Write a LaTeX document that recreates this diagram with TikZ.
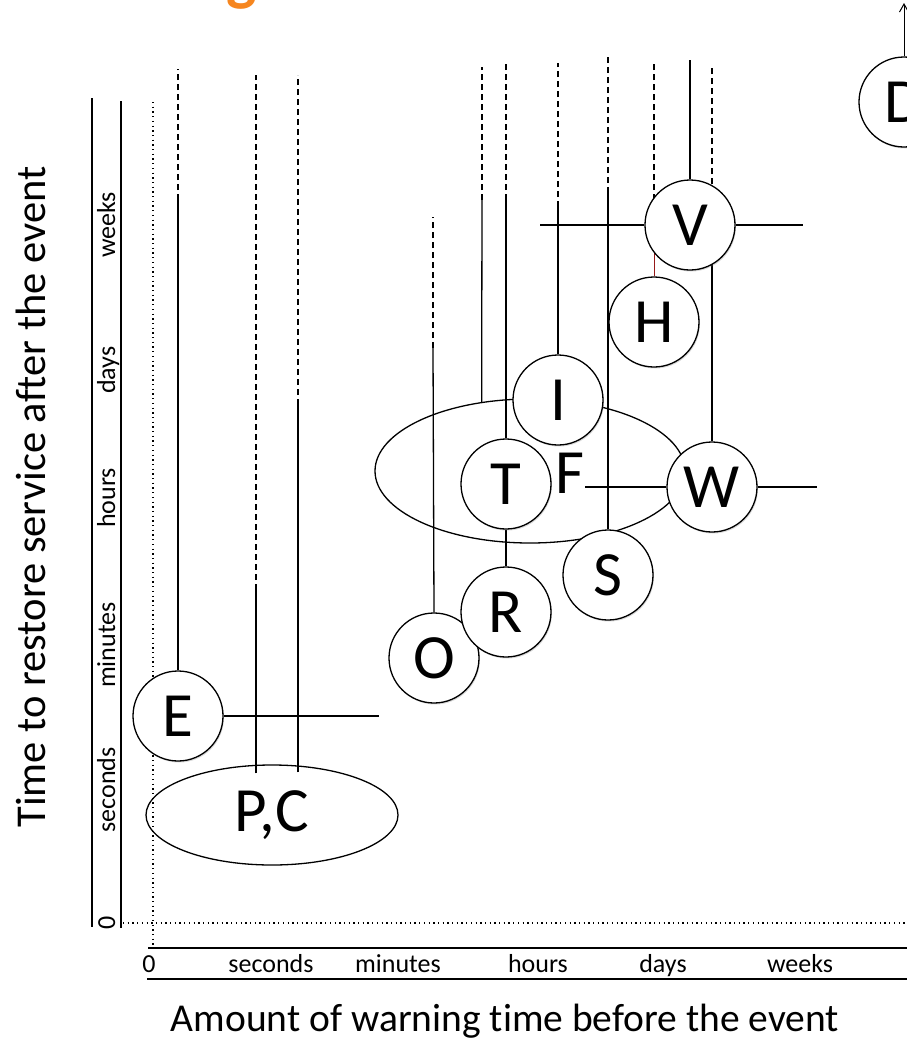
\documentclass[tikz,border=0pt]{standalone}
\usepackage{fontspec}
\setmainfont{Carlito}[Ligatures=NoCommon]
\usepackage{xcolor}
\usepackage{tikz}
\usetikzlibrary{arrows.meta,positioning,shapes.geometric,backgrounds,calc,shadows}
\definecolor{laranja}{RGB}{246,134,31}
\definecolor{vermelho}{RGB}{150,25,25}
\tikzset{
    evento/.style={
        circle,
        draw,
        fill=white,
        line width=1.3pt,
        minimum size=90pt,
        inner sep=0pt,
        font=\fontsize{63}{63}\selectfont,
        drop shadow={shadow xshift=1pt, shadow yshift=-1.5pt, opacity=0.3}
    },
    grupo/.style={ellipse, draw, line width=1.3pt, inner sep=0pt},
    linha/.style={line width=1.3pt},
    incerto/.style={linha, dash pattern=on 6pt off 4pt},
    grade/.style={line width=1.2pt, dash pattern=on 1.3pt off 3.4pt},
    eixo/.style={line width=1.4pt},
    rotulo/.style={font=\fontsize{26}{26}\selectfont, inner sep=0pt, anchor=base},
    titulo/.style={font=\fontsize{39.5}{39.5}\selectfont, inner sep=0pt, anchor=base}
}

\begin{document}
\begin{tikzpicture}[x=1pt, y=-1pt]
    \useasboundingbox (0,0) rectangle (907,1039);

    \node[text=laranja, font=\bfseries\fontsize{64}{64}\selectfont, anchor=south, inner sep=0pt] (titulo) at (242,10) {g};

    % eixos
    \draw[eixo] (92,98) -- (92,927);
    \draw[eixo] (121,101) -- (121,928);
    \draw[grade] (123,923) -- (907,923);
    \draw[grade] (153,102) -- (153,948);
    \draw[eixo] (148,948) -- (907,948);
    \draw[eixo] (147,979) -- (907,979);

    \node[rotulo] (x0) at (149,972) {0};
    \node[rotulo] (xseg) at (271,972) {seconds};
    \node[rotulo] (xmin) at (398,972) {minutes};
    \node[rotulo] (xhor) at (538,972) {hours};
    \node[rotulo] (xdia) at (663,972) {days};
    \node[rotulo] (xsem) at (800,972) {weeks};

    \node[rotulo, rotate=90] (y0) at (115,923) {0};
    \node[rotulo, rotate=90] (yseg) at (115,790) {seconds};
    \node[rotulo, rotate=90] (ymin) at (115,645) {minutes};
    \node[rotulo, rotate=90] (yhor) at (115,498) {hours};
    \node[rotulo, rotate=90] (ydia) at (115,370) {days};
    \node[rotulo, rotate=90] (ysem) at (115,225) {weeks};

    \node[titulo] (tituloX) at (505,1031) {Amount of warning time before the event};
    \node[titulo, rotate=90, font=\fontsize{42.5}{42.5}\selectfont] (tituloY) at (45,497) {Time to restore service after the event};

    % grupos e eventos
    \node[grupo, minimum width=252pt, minimum height=100pt, font=\fontsize{63}{63}\selectfont] (PC) at (272,815) {P,C};
    \node[grupo, minimum width=310pt, minimum height=144pt] (TF) at (530,471) {};
    \node[font=\fontsize{63}{63}\selectfont, inner sep=0pt] (F) at (570,473) {F};

    \node[evento] (O) at (434,658) {O};
    \node[evento] (R) at (506,612) {R};
    \node[evento] (T) at (506,484) {T};
    \node[evento] (I) at (558,400) {I};
    \node[evento] (S) at (608,575) {S};
    \node[evento] (H) at (654,322) {H};
    \node[evento] (V) at (690,225) {V};
    \node[evento] (W) at (712,487) {W};
    \node[evento] (E) at (178,716) {E};
    \node[evento] (D) at (904,102) {D};

    % pontos livres
    \foreach \nome/\x/\quebra/\topo in {E/178/200/69, P/256/590/75, C/298/405/75, O/433/348/217,
        F/482/200/67, T/506/200/63, I/558/207/63, S/608/193/57, H/654/250/63, W/712/264/68}{
        \coordinate (\nome q) at (\x,\quebra);
        \coordinate (\nome t) at (\x,\topo);
    }
    \coordinate (Pb) at ([xshift=-16pt, yshift=-9pt]PC.north);
    \coordinate (Cb) at ([xshift=26pt, yshift=-8pt]PC.north);
    \coordinate (Edir) at (379,716);
    \coordinate (Vesq) at (540,225);
    \coordinate (Vdir) at (803,225);
    \coordinate (Vt) at (690,60);
    \coordinate (Wdir) at (817,487);
    \coordinate (Dt) at (904,3);

    \begin{scope}[on background layer]
        \draw[linha] (E.north) -- (Eq);
        \draw[incerto] (Eq) -- (Et);
        \draw[linha] (Pb) -- (Pq);
        \draw[incerto] (Pq) -- (Pt);
        \draw[linha] (Cb) -- (Cq);
        \draw[incerto] (Cq) -- (Ct);
        \draw[linha] (O.north) -- (Oq);
        \draw[incerto] (Oq) -- (Ot);
        \draw[linha] (TF.125) -- (Fq);
        \draw[incerto] (Fq) -- (Ft);
        \draw[linha] (T.north) -- (Tq);
        \draw[incerto] (Tq) -- (Tt);
        \draw[linha] (T.south) -- (R.north);
        \draw[linha] (I.north) -- (Iq);
        \draw[incerto] (Iq) -- (It);
        \draw[linha] (S.north) -- (Sq);
        \draw[incerto] (Sq) -- (St);
        \draw[linha, vermelho, line width=1pt] (H.north) -- (Hq);
        \draw[incerto] (Hq) -- (Ht);
        \draw[linha] (W.north) -- (Wq);
        \draw[incerto] (Wq) -- (Wt);
        \draw[linha] (E.east) -- (Edir);
        \draw[linha] (V.west) -- (Vesq);
        \draw[linha] (V.east) -- (Vdir);
        \draw[linha] (V.north) -- (Vt);
        \draw[linha] (W.west) -- (F.east |- W.west);
        \draw[linha] (W.east) -- (Wdir);
        \draw[line width=1pt, -{Straight Barb[length=8pt, width=9pt]}] (D.north) -- (Dt);
    \end{scope}
\end{tikzpicture}
\end{document}
